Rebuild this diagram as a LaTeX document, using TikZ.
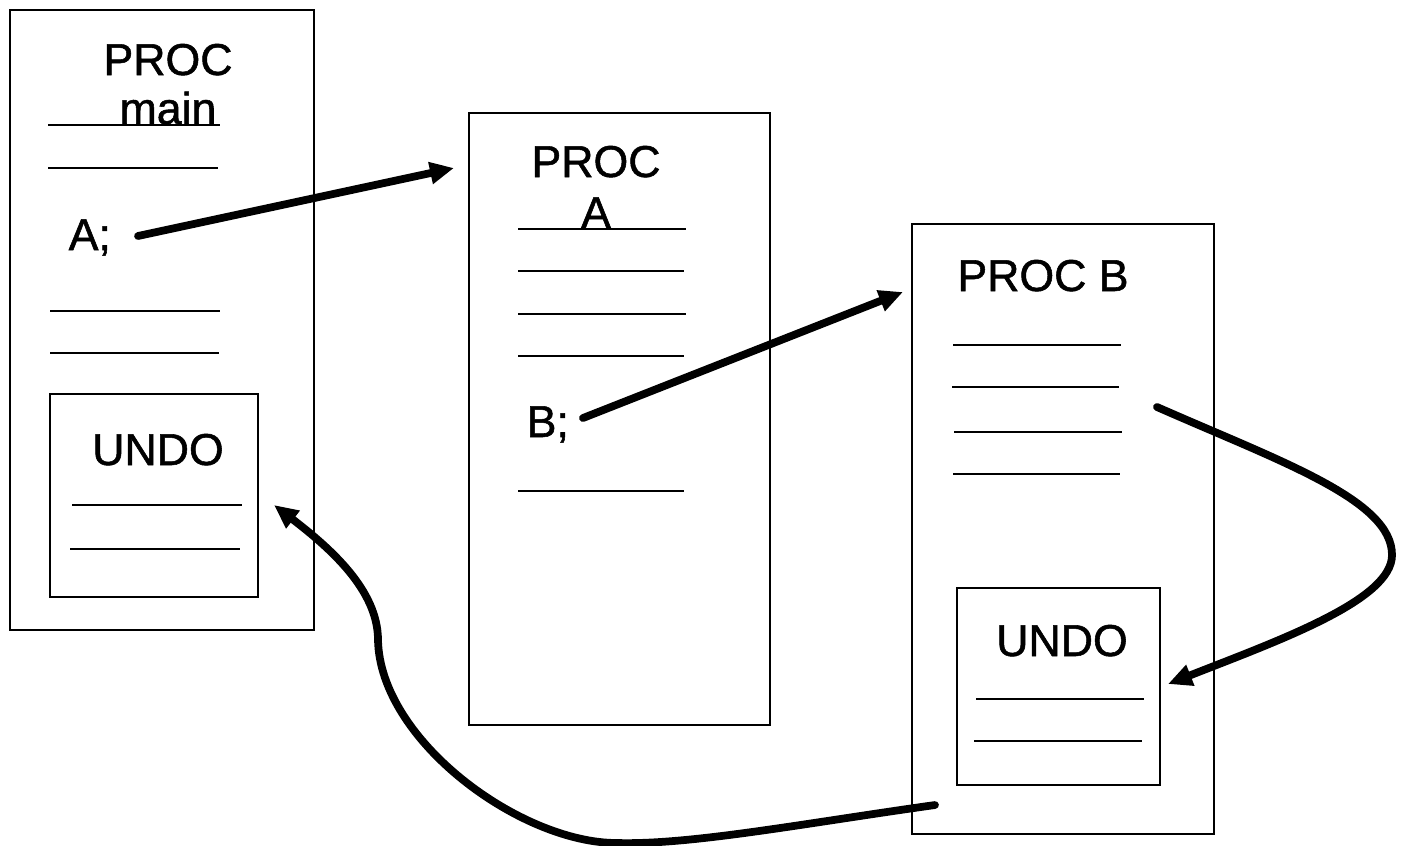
\documentclass[tikz,border=0pt]{standalone}
\usepackage{fontspec}
\setmainfont{Liberation Sans}
\newfontfamily\lblfont{Liberation Sans}[FakeBold=1.2]
\usetikzlibrary{arrows.meta,fit}

\tikzset{
  procbox/.style={draw, line width=0.75pt, inner sep=0pt, fit={#1}},
  rule/.style={line width=0.8pt},
  label/.style={anchor=base, inner sep=0pt, font=\lblfont\fontsize{12.7}{15}\selectfont},
  call/.style={line width=2.2pt, line cap=round,
    -{Triangle[length=0.24cm,width=0.21cm]}},
}

\begin{document}
\begin{tikzpicture}[x=0.01cm, y=-0.01cm]
  \useasboundingbox (0,0) rectangle (1404,845);

  % ---- PROC main ----
  \node[procbox={(10,10)(314,630)}] (main) {};
  \node[label] (mainP) at (168,75) {PROC};
  \node[label] (mainN) at (168,124) {main};
  \draw[rule] (48,125) -- (220,125);
  \draw[rule] (48,168) -- (218,168);
  \node[label, anchor=base west] (callA) at (68,250) {A;};
  \draw[rule] (50,311) -- (220,311);
  \draw[rule] (50,353) -- (219,353);
  \node[procbox={(50,394)(258,597)}] (undoM) {};
  \node[label] (undoMT) at (158,465) {UNDO};
  \draw[rule] (72,505) -- (242,505);
  \draw[rule] (70,549) -- (240,549);

  % ---- PROC A ----
  \node[procbox={(469,113)(770,725)}] (procA) {};
  \node[label] (aP) at (596,177) {PROC};
  \node[label] (aN) at (596,228) {A};
  \draw[rule] (518,229) -- (686,229);
  \draw[rule] (518,271) -- (684,271);
  \draw[rule] (518,314) -- (686,314);
  \draw[rule] (518,356) -- (684,356);
  \node[label, anchor=base west] (callB) at (526,437) {B;};
  \draw[rule] (518,491) -- (684,491);

  % ---- PROC B ----
  \node[procbox={(912,224)(1214,834)}] (procB) {};
  \node[label] (bP) at (1043,291) {PROC B};
  \draw[rule] (953,345) -- (1121,345);
  \draw[rule] (952,387) -- (1119,387);
  \draw[rule] (954,432) -- (1122,432);
  \draw[rule] (953,474) -- (1120,474);
  \node[procbox={(957,588)(1160,785)}] (undoB) {};
  \node[label] (undoBT) at (1062,656) {UNDO};
  \draw[rule] (976,699) -- (1144,699);
  \draw[rule] (974,741) -- (1142,741);

  % ---- connector ends ----
  \coordinate (sA) at (138,236);
  \coordinate (tA) at (454,168);
  \coordinate (sB) at (583,418);
  \coordinate (tB) at (903,292);
  \coordinate (sU) at (1157,407);
  \coordinate (tU) at (1168,684);
  \coordinate (sR) at (935,805);
  \coordinate (tR) at (274,505);

  % calls
  \draw[call] (sA) -- (tA);
  \draw[call] (sB) -- (tB);

  % jump into the UNDO block of B
  \draw[call] (sU) .. controls (1282,462) and (1392,500) .. (1392,555)
                   .. controls (1392,600) and (1280,640) .. (tU);

  % return to the UNDO block of main
  \draw[call] (sR) .. controls (800,824) and (690,845) .. (617,843)
                   .. controls (520,843) and (380,740) .. (378,640)
                   .. controls (378,590) and (330,548) .. (tR);
\end{tikzpicture}
\end{document}
